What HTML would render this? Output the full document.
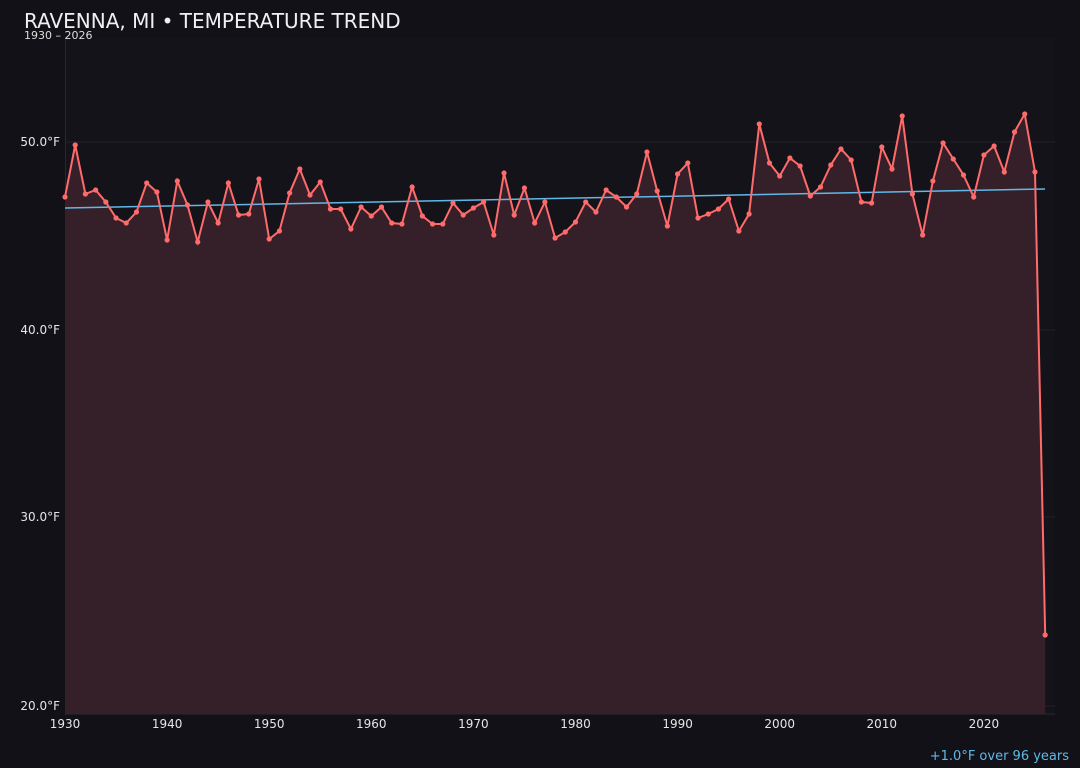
<!DOCTYPE html>
<html><head><meta charset="utf-8"><style>
html,body{margin:0;padding:0;background:#121118;}
body{width:1080px;height:768px;overflow:hidden;font-family:"DejaVu Sans","Liberation Sans",sans-serif;}
</style></head><body>
<svg id="s" width="1080" height="768" xmlns="http://www.w3.org/2000/svg" style="position:absolute;left:0;top:0">
<rect width="1080" height="768" fill="#121118"/>
<rect x="65" y="38" width="990" height="676" fill="#141319"/>
<g stroke="#241f26" stroke-width="1">
<line x1="65" x2="1055" y1="142" y2="142"/>
<line x1="65" x2="1055" y1="330" y2="330"/>
<line x1="65" x2="1055" y1="517" y2="517"/>
<line x1="65" x2="1055" y1="706" y2="706"/>
</g>
<line x1="65.5" x2="65.5" y1="38" y2="714" stroke="#2a2730"/>
<line x1="65" x2="1055" y1="714" y2="714" stroke="#2a2730"/>
<g fill="#e6e6e6" font-size="12" text-anchor="end">
<text x="60" y="146">50.0°F</text>
<text x="60" y="334">40.0°F</text>
<text x="60" y="521">30.0°F</text>
<text x="60" y="710">20.0°F</text>
</g>
<g fill="#e6e6e6" font-size="12" text-anchor="middle" id="xt"></g>
<text x="24" y="28" fill="#f0f0f0" font-size="20">RAVENNA, MI • TEMPERATURE TREND</text>
<text x="24" y="39" fill="#dddddd" font-size="11">1930 – 2026</text>
<text x="1069" y="760" fill="#5fb8e8" font-size="13" text-anchor="end">+1.0°F over 96 years</text>
<g id="g"></g>
</svg>
<script>
var ys=[197,145,194,190,202,218,223,212,183,192,240,181,205,242,202,223,183,215,214,179,239,231,193,169,195,182,209,209,229,207,216,207,223,224,187,216,224,224,203,215,208,202,235,173,215,188,223,202,238,232,222,202,212,190,197,207,194,152,191,226,174,163,218,214,209,199,231,214,124,163,176,158,166,196,187,165,149,160,202,203,147,169,116,194,235,181,143,159,175,197,155,146,172,132,114,172,635];
function X(i){return 65+i*10.21;}
var ns="http://www.w3.org/2000/svg",g=document.getElementById('g');
var pts=ys.map(function(y,i){return X(i).toFixed(1)+','+y;}).join(' ');
var a=document.createElementNS(ns,'polygon');
a.setAttribute('points','65,714 '+pts+' '+X(96).toFixed(1)+',714');a.setAttribute('fill','#35202a');g.appendChild(a);
var t=document.createElementNS(ns,'line');
t.setAttribute('x1',65);t.setAttribute('y1',208);t.setAttribute('x2',1045);t.setAttribute('y2',189);
t.setAttribute('stroke','#5fb8e8');t.setAttribute('stroke-width','1.5');g.appendChild(t);
var l=document.createElementNS(ns,'polyline');
l.setAttribute('points',pts);l.setAttribute('fill','none');l.setAttribute('stroke','#ff6b6b');l.setAttribute('stroke-width','2');g.appendChild(l);
ys.forEach(function(y,i){var c=document.createElementNS(ns,'circle');c.setAttribute('cx',X(i));c.setAttribute('cy',y);c.setAttribute('r',2.6);c.setAttribute('fill','#ff6b6b');g.appendChild(c);});
var xt=document.getElementById('xt');
for(var k=0;k<10;k++){var tx=document.createElementNS(ns,'text');tx.setAttribute('x',X(k*10));tx.setAttribute('y',728);tx.textContent=1930+k*10;xt.appendChild(tx);}
</script>
</body></html>
